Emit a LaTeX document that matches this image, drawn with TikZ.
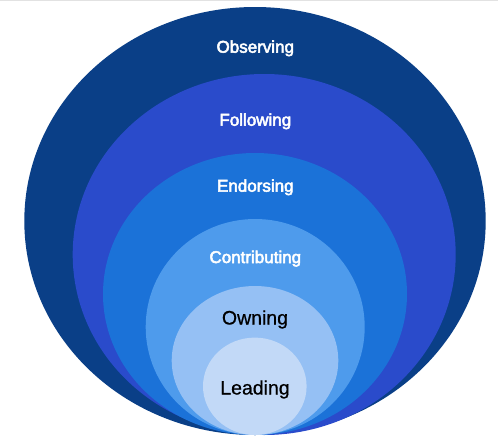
\documentclass[tikz,border=0pt]{standalone}
\usepackage{fontspec}
\setmainfont{Liberation Sans}
\newfontfamily\medfont[FakeBold=3]{Liberation Sans}
\newfontfamily\regfont[FakeBold=0.6]{Liberation Sans}
\definecolor{cA}{HTML}{0A3F87}
\definecolor{cB}{HTML}{2A4BCB}
\definecolor{cC}{HTML}{1B72D8}
\definecolor{cD}{HTML}{4E9BEC}
\definecolor{cE}{HTML}{95C0F4}
\definecolor{cF}{HTML}{C2D9F7}
\definecolor{topline}{HTML}{E2E2E2}
\begin{document}
\begin{tikzpicture}[x=1pt,y=-1pt,
  wlabel/.style={anchor=base,text=white,font=\medfont\fontsize{17}{20}\selectfont,inner sep=0pt},
  blabel/.style={anchor=base,text=black,font=\regfont\fontsize{19.5}{22}\selectfont,inner sep=0pt}]
\useasboundingbox (0,0) rectangle (498,442);
\fill[white] (0,0) rectangle (498,442);
\fill[topline] (0,0) rectangle (498,1.3);
\fill[cA] (255,221) ellipse [x radius=230.7, y radius=214];
\fill[cB] (264.2,254.5) ellipse [x radius=191.5, y radius=180.5];
\fill[cC] (255,294) ellipse [x radius=152, y radius=141];
\fill[cD] (255.2,327) ellipse [x radius=109.5, y radius=108];
\fill[cE] (255,360.5) ellipse [x radius=83.3, y radius=74.5];
\fill[cF] (254.8,386.3) ellipse [x radius=51.8, y radius=48.7];
\node[wlabel] (obs) at (255.3,52.7) {Observing};
\node[wlabel] (fol) at (255.3,125.7) {Following};
\node[wlabel] (end) at (255.3,191.7) {Endorsing};
\node[wlabel] (con) at (255.3,263) {Contributing};
\node[blabel] (own) at (255,324.5) {Owning};
\node[blabel] (lead) at (255,394.5) {Leading};
\end{tikzpicture}
\end{document}
